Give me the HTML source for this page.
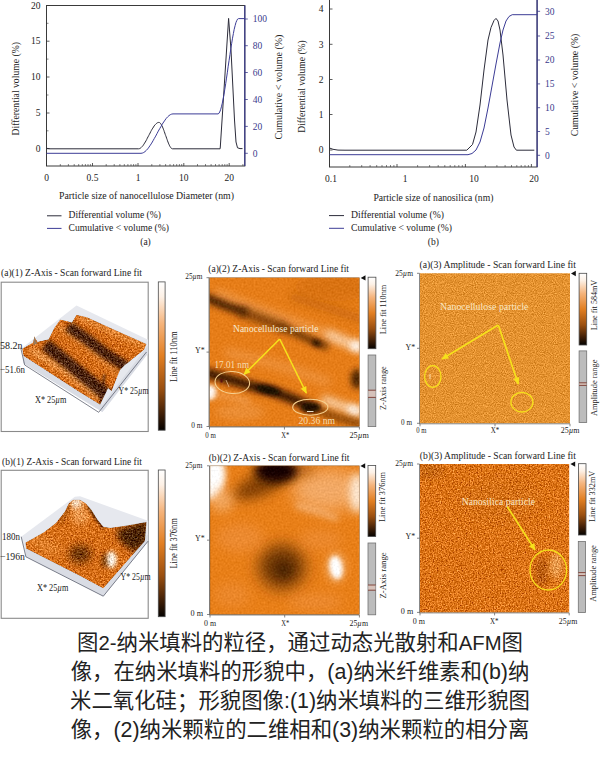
<!DOCTYPE html>
<html lang="zh"><head><meta charset="utf-8"><title>Figure 2</title>
<style>
html,body{margin:0;padding:0;background:#fff;}
body{width:600px;height:760px;position:relative;overflow:hidden;}
svg{position:absolute;left:0;top:0;}
svg text{font-family:"Liberation Serif","Noto Sans CJK SC",serif;}
.cap{position:absolute;left:0;top:629px;width:600px;text-align:center;white-space:nowrap;
font-family:"Liberation Sans","Noto Sans CJK SC",sans-serif;font-size:21.4px;line-height:29px;color:#222;}
.cap .l{font-size:20.3px;}
</style></head><body>
<svg width="600" height="760" viewBox="0 0 600 760">
<defs><linearGradient id="cbar" x1="0" y1="0" x2="0" y2="1">
<stop offset="0" stop-color="#ffffff"/><stop offset="0.10" stop-color="#fdf1e6"/>
<stop offset="0.28" stop-color="#f5b47c"/><stop offset="0.50" stop-color="#e27f22"/>
<stop offset="0.72" stop-color="#9a4f10"/><stop offset="0.90" stop-color="#3a1c06"/>
<stop offset="1" stop-color="#050200"/></linearGradient>
<filter id="b1" filterUnits="userSpaceOnUse" x="0" y="250" width="600" height="400"><feGaussianBlur stdDeviation="1"/></filter>
<filter id="b2" filterUnits="userSpaceOnUse" x="0" y="250" width="600" height="400"><feGaussianBlur stdDeviation="2"/></filter>
<filter id="b3" filterUnits="userSpaceOnUse" x="0" y="250" width="600" height="400"><feGaussianBlur stdDeviation="3"/></filter>
<filter id="b4" filterUnits="userSpaceOnUse" x="0" y="250" width="600" height="400"><feGaussianBlur stdDeviation="4"/></filter>
<filter id="b6" filterUnits="userSpaceOnUse" x="0" y="250" width="600" height="400"><feGaussianBlur stdDeviation="6"/></filter>
<filter id="b8" filterUnits="userSpaceOnUse" x="0" y="250" width="600" height="400"><feGaussianBlur stdDeviation="8"/></filter>
<filter id="gA3" filterUnits="userSpaceOnUse" x="0" y="250" width="600" height="400" color-interpolation-filters="sRGB">
<feTurbulence type="fractalNoise" baseFrequency="0.9" numOctaves="2" seed="7" result="n"/>
<feColorMatrix in="n" type="matrix" values="1 0 0 0 0  1 0 0 0 0  1 0 0 0 0  0 0 0 0 1" result="g"/>
<feComposite in="SourceGraphic" in2="g" operator="arithmetic" k1="0" k2="1" k3="0.42" k4="-0.21" result="c"/>
<feComposite in="c" in2="SourceGraphic" operator="in"/>
</filter>
<filter id="gB3" filterUnits="userSpaceOnUse" x="0" y="250" width="600" height="400" color-interpolation-filters="sRGB">
<feTurbulence type="fractalNoise" baseFrequency="0.75" numOctaves="3" seed="19" result="n"/>
<feColorMatrix in="n" type="matrix" values="1 0 0 0 0  1 0 0 0 0  1 0 0 0 0  0 0 0 0 1" result="g"/>
<feComposite in="SourceGraphic" in2="g" operator="arithmetic" k1="0" k2="1" k3="0.75" k4="-0.375" result="c"/>
<feComposite in="c" in2="SourceGraphic" operator="in"/>
</filter>
<filter id="g3D" filterUnits="userSpaceOnUse" x="0" y="250" width="600" height="400" color-interpolation-filters="sRGB">
<feTurbulence type="fractalNoise" baseFrequency="0.65" numOctaves="3" seed="5" result="n"/>
<feColorMatrix in="n" type="matrix" values="1 0 0 0 0  1 0 0 0 0  1 0 0 0 0  0 0 0 0 1" result="g"/>
<feComposite in="SourceGraphic" in2="g" operator="arithmetic" k1="0" k2="1" k3="0.7" k4="-0.35" result="c"/>
<feComposite in="c" in2="SourceGraphic" operator="in"/>
</filter>
<filter id="g2D" filterUnits="userSpaceOnUse" x="0" y="250" width="600" height="400" color-interpolation-filters="sRGB">
<feTurbulence type="fractalNoise" baseFrequency="0.5" numOctaves="2" seed="9" result="n"/>
<feColorMatrix in="n" type="matrix" values="1 0 0 0 0  1 0 0 0 0  1 0 0 0 0  0 0 0 0 1" result="g"/>
<feComposite in="SourceGraphic" in2="g" operator="arithmetic" k1="0" k2="1" k3="0.14" k4="-0.07" result="c"/>
<feComposite in="c" in2="SourceGraphic" operator="in"/>
</filter>
<marker id="ah" viewBox="0 0 10 10" refX="9" refY="5" markerWidth="8" markerHeight="7" orient="auto-start-reverse" markerUnits="userSpaceOnUse">
<path d="M0,0.5 L10,5 L0,9.5 Z" fill="#f6e11c"/></marker>
<clipPath id="cA2"><rect x="209.5" y="277.7" width="149.9" height="148.8"/></clipPath>
<clipPath id="cA3"><rect x="420" y="273.3" width="150" height="150"/></clipPath>
<clipPath id="cB2"><rect x="210" y="465.8" width="149.4" height="148.7"/></clipPath>
<clipPath id="cB3"><rect x="420" y="464" width="149.2" height="148.4"/></clipPath></defs>
<rect x="46.5" y="5.5" width="198.3" height="160.5" fill="none" stroke="#3a3a3a" stroke-width="1"/>
<line x1="244.8" y1="5.5" x2="244.8" y2="166" stroke="#3a3a8c" stroke-width="1.2"/>
<line x1="46.5" y1="5.5" x2="49.5" y2="5.5" stroke="#333" stroke-width="0.8"/>
<text x="40.5" y="8.7" text-anchor="end" font-size="9.5" fill="#222">20</text>
<line x1="46.5" y1="41.2" x2="49.5" y2="41.2" stroke="#333" stroke-width="0.8"/>
<text x="40.5" y="44.400000000000006" text-anchor="end" font-size="9.5" fill="#222">15</text>
<line x1="46.5" y1="77" x2="49.5" y2="77" stroke="#333" stroke-width="0.8"/>
<text x="40.5" y="80.2" text-anchor="end" font-size="9.5" fill="#222">10</text>
<line x1="46.5" y1="113" x2="49.5" y2="113" stroke="#333" stroke-width="0.8"/>
<text x="40.5" y="116.2" text-anchor="end" font-size="9.5" fill="#222">5</text>
<line x1="46.5" y1="148.7" x2="49.5" y2="148.7" stroke="#333" stroke-width="0.8"/>
<text x="40.5" y="151.89999999999998" text-anchor="end" font-size="9.5" fill="#222">0</text>
<line x1="46.5" y1="23.3" x2="48.5" y2="23.3" stroke="#333" stroke-width="0.6"/>
<line x1="46.5" y1="59.1" x2="48.5" y2="59.1" stroke="#333" stroke-width="0.6"/>
<line x1="46.5" y1="95" x2="48.5" y2="95" stroke="#333" stroke-width="0.6"/>
<line x1="46.5" y1="130.8" x2="48.5" y2="130.8" stroke="#333" stroke-width="0.6"/>
<line x1="244.8" y1="19" x2="247.8" y2="19" stroke="#3a3a8c" stroke-width="0.8"/>
<text x="252.8" y="22.2" font-size="9.5" fill="#3a3a8c">100</text>
<line x1="244.8" y1="45.7" x2="247.8" y2="45.7" stroke="#3a3a8c" stroke-width="0.8"/>
<text x="252.8" y="48.900000000000006" font-size="9.5" fill="#3a3a8c">80</text>
<line x1="244.8" y1="72.5" x2="247.8" y2="72.5" stroke="#3a3a8c" stroke-width="0.8"/>
<text x="252.8" y="75.7" font-size="9.5" fill="#3a3a8c">60</text>
<line x1="244.8" y1="99.5" x2="247.8" y2="99.5" stroke="#3a3a8c" stroke-width="0.8"/>
<text x="252.8" y="102.7" font-size="9.5" fill="#3a3a8c">40</text>
<line x1="244.8" y1="126.4" x2="247.8" y2="126.4" stroke="#3a3a8c" stroke-width="0.8"/>
<text x="252.8" y="129.6" font-size="9.5" fill="#3a3a8c">20</text>
<line x1="244.8" y1="153.3" x2="247.8" y2="153.3" stroke="#3a3a8c" stroke-width="0.8"/>
<text x="252.8" y="156.5" font-size="9.5" fill="#3a3a8c">0</text>
<line x1="46.5" y1="166" x2="46.5" y2="163" stroke="#333" stroke-width="0.8"/>
<text x="46.5" y="181" text-anchor="middle" font-size="9.5" fill="#222">0</text>
<line x1="92.5" y1="166" x2="92.5" y2="163" stroke="#333" stroke-width="0.8"/>
<text x="92.5" y="181" text-anchor="middle" font-size="9.5" fill="#222">0.5</text>
<line x1="138" y1="166" x2="138" y2="163" stroke="#333" stroke-width="0.8"/>
<text x="138" y="181" text-anchor="middle" font-size="9.5" fill="#222">1</text>
<line x1="183.8" y1="166" x2="183.8" y2="163" stroke="#333" stroke-width="0.8"/>
<text x="183.8" y="181" text-anchor="middle" font-size="9.5" fill="#222">10</text>
<line x1="229.2" y1="166" x2="229.2" y2="163" stroke="#333" stroke-width="0.8"/>
<text x="229.2" y="181" text-anchor="middle" font-size="9.5" fill="#222">20</text>
<line x1="60.3" y1="166" x2="60.3" y2="164" stroke="#333" stroke-width="0.6"/>
<line x1="68.4" y1="166" x2="68.4" y2="164" stroke="#333" stroke-width="0.6"/>
<line x1="74.2" y1="166" x2="74.2" y2="164" stroke="#333" stroke-width="0.6"/>
<line x1="78.7" y1="166" x2="78.7" y2="164" stroke="#333" stroke-width="0.6"/>
<line x1="82.3" y1="166" x2="82.3" y2="164" stroke="#333" stroke-width="0.6"/>
<line x1="85.4" y1="166" x2="85.4" y2="164" stroke="#333" stroke-width="0.6"/>
<line x1="88.0" y1="166" x2="88.0" y2="164" stroke="#333" stroke-width="0.6"/>
<line x1="90.4" y1="166" x2="90.4" y2="164" stroke="#333" stroke-width="0.6"/>
<line x1="106.2" y1="166" x2="106.2" y2="164" stroke="#333" stroke-width="0.6"/>
<line x1="114.2" y1="166" x2="114.2" y2="164" stroke="#333" stroke-width="0.6"/>
<line x1="119.9" y1="166" x2="119.9" y2="164" stroke="#333" stroke-width="0.6"/>
<line x1="124.3" y1="166" x2="124.3" y2="164" stroke="#333" stroke-width="0.6"/>
<line x1="127.9" y1="166" x2="127.9" y2="164" stroke="#333" stroke-width="0.6"/>
<line x1="131.0" y1="166" x2="131.0" y2="164" stroke="#333" stroke-width="0.6"/>
<line x1="133.6" y1="166" x2="133.6" y2="164" stroke="#333" stroke-width="0.6"/>
<line x1="135.9" y1="166" x2="135.9" y2="164" stroke="#333" stroke-width="0.6"/>
<line x1="151.8" y1="166" x2="151.8" y2="164" stroke="#333" stroke-width="0.6"/>
<line x1="159.9" y1="166" x2="159.9" y2="164" stroke="#333" stroke-width="0.6"/>
<line x1="165.6" y1="166" x2="165.6" y2="164" stroke="#333" stroke-width="0.6"/>
<line x1="170.0" y1="166" x2="170.0" y2="164" stroke="#333" stroke-width="0.6"/>
<line x1="173.6" y1="166" x2="173.6" y2="164" stroke="#333" stroke-width="0.6"/>
<line x1="176.7" y1="166" x2="176.7" y2="164" stroke="#333" stroke-width="0.6"/>
<line x1="179.4" y1="166" x2="179.4" y2="164" stroke="#333" stroke-width="0.6"/>
<line x1="181.7" y1="166" x2="181.7" y2="164" stroke="#333" stroke-width="0.6"/>
<line x1="197.5" y1="166" x2="197.5" y2="164" stroke="#333" stroke-width="0.6"/>
<line x1="205.5" y1="166" x2="205.5" y2="164" stroke="#333" stroke-width="0.6"/>
<line x1="211.1" y1="166" x2="211.1" y2="164" stroke="#333" stroke-width="0.6"/>
<line x1="215.5" y1="166" x2="215.5" y2="164" stroke="#333" stroke-width="0.6"/>
<line x1="219.1" y1="166" x2="219.1" y2="164" stroke="#333" stroke-width="0.6"/>
<line x1="222.2" y1="166" x2="222.2" y2="164" stroke="#333" stroke-width="0.6"/>
<line x1="224.8" y1="166" x2="224.8" y2="164" stroke="#333" stroke-width="0.6"/>
<line x1="227.1" y1="166" x2="227.1" y2="164" stroke="#333" stroke-width="0.6"/>
<line x1="242.9" y1="166" x2="242.9" y2="164" stroke="#333" stroke-width="0.6"/>
<path d="M46.5,148.3 L50.0,148.8 L138.5,148.8 L138.5,148.8 L139.2,148.7 L139.9,148.5 L140.5,148.1 L141.2,147.5 L141.9,146.8 L142.6,146.1 L143.3,145.2 L143.9,144.2 L144.6,143.1 L145.3,142.0 L146.0,140.8 L146.7,139.5 L147.3,138.2 L148.0,136.9 L148.7,135.6 L149.4,134.3 L150.1,133.0 L150.7,131.7 L151.4,130.4 L152.1,129.2 L152.8,128.1 L153.5,127.0 L154.1,126.0 L154.8,125.1 L155.5,124.4 L156.2,123.7 L156.9,123.1 L157.5,122.7 L158.2,122.5 L158.9,122.4 L159.4,122.5 L159.8,122.7 L160.3,123.1 L160.7,123.7 L161.2,124.4 L161.6,125.1 L162.1,126.0 L162.5,127.0 L163.0,128.1 L163.4,129.2 L163.9,130.4 L164.3,131.7 L164.8,133.0 L165.2,134.3 L165.7,135.6 L166.2,136.9 L166.6,138.2 L167.1,139.5 L167.5,140.8 L168.0,142.0 L168.4,143.1 L168.9,144.2 L169.3,145.2 L169.8,146.1 L170.2,146.8 L170.7,147.5 L171.1,148.1 L171.6,148.5 L172.0,148.7 L172.5,148.8 L220.1,148.8 L220.3,147.0 L228.6,18.4 L231.0,50.0 L234.5,120.0 L236.0,142.0 L237.5,147.8 L240.0,148.6 L242.5,148.6" fill="none" stroke="#2c2c3a" stroke-width="1" stroke-linejoin="round"/>
<path d="M46.5,153.3 L141.0,153.3 L141.0,153.3 L142.3,153.1 L143.7,152.5 L145.0,151.6 L146.3,150.4 L147.7,148.9 L149.0,147.1 L150.3,145.2 L151.7,143.1 L153.0,140.8 L154.3,138.5 L155.7,136.1 L157.0,133.6 L158.3,131.1 L159.7,128.7 L161.0,126.4 L162.3,124.1 L163.7,122.0 L165.0,120.1 L166.3,118.3 L167.7,116.8 L169.0,115.6 L170.3,114.7 L171.7,114.1 L173.0,113.9 L218.0,113.9 L218.0,113.9 L218.9,113.4 L219.7,112.0 L220.6,109.8 L221.4,106.8 L222.3,103.2 L223.1,99.0 L224.0,94.3 L224.8,89.2 L225.7,83.7 L226.5,78.1 L227.4,72.2 L228.2,66.2 L229.1,60.3 L230.0,54.4 L230.8,48.8 L231.7,43.3 L232.5,38.2 L233.4,33.5 L234.2,29.3 L235.1,25.7 L235.9,22.7 L236.8,20.5 L237.6,19.1 L238.5,18.6 L244.8,18.6" fill="none" stroke="#3c3c96" stroke-width="1" stroke-linejoin="round"/>
<text transform="translate(18.6,88.7) rotate(-90)" text-anchor="middle" font-size="9.7" fill="#222">Differential volume (%)</text>
<text transform="translate(282,87) rotate(-90)" text-anchor="middle" font-size="10" fill="#222">Cumulative &lt; volume (%)</text>
<text x="59" y="199.3" font-size="9.8" fill="#222" textLength="175.0" lengthAdjust="spacingAndGlyphs">Particle size of nanocellulose Diameter (nm)</text>
<line x1="47" y1="215.8" x2="61.5" y2="215.8" stroke="#2c2c3a" stroke-width="1"/>
<text x="68.5" y="218.4" font-size="9.8" fill="#222" textLength="92.5" lengthAdjust="spacingAndGlyphs">Differential volume (%)</text>
<line x1="47" y1="228.4" x2="61.5" y2="228.4" stroke="#3c3c96" stroke-width="1"/>
<text x="68.5" y="231" font-size="9.8" fill="#222" textLength="100.5" lengthAdjust="spacingAndGlyphs">Cumulative &lt; volume (%)</text>
<text x="145.5" y="245" text-anchor="middle" font-size="9.5" fill="#222">(a)</text>
<rect x="329.5" y="-2" width="207.60000000000002" height="169" fill="none" stroke="#3a3a3a" stroke-width="1"/>
<line x1="537.1" y1="-2" x2="537.1" y2="167" stroke="#3a3a8c" stroke-width="1.2"/>
<line x1="329.5" y1="9" x2="332.5" y2="9" stroke="#333" stroke-width="0.8"/>
<text x="323.5" y="12.2" text-anchor="end" font-size="9.5" fill="#222">4</text>
<line x1="329.5" y1="44.3" x2="332.5" y2="44.3" stroke="#333" stroke-width="0.8"/>
<text x="323.5" y="47.5" text-anchor="end" font-size="9.5" fill="#222">3</text>
<line x1="329.5" y1="79.5" x2="332.5" y2="79.5" stroke="#333" stroke-width="0.8"/>
<text x="323.5" y="82.7" text-anchor="end" font-size="9.5" fill="#222">2</text>
<line x1="329.5" y1="114.5" x2="332.5" y2="114.5" stroke="#333" stroke-width="0.8"/>
<text x="323.5" y="117.7" text-anchor="end" font-size="9.5" fill="#222">1</text>
<line x1="329.5" y1="150" x2="332.5" y2="150" stroke="#333" stroke-width="0.8"/>
<text x="323.5" y="153.2" text-anchor="end" font-size="9.5" fill="#222">0</text>
<line x1="537.1" y1="11.3" x2="540.1" y2="11.3" stroke="#3a3a8c" stroke-width="0.8"/>
<text x="545.1" y="14.5" font-size="9.5" fill="#3a3a8c">30</text>
<line x1="537.1" y1="36" x2="540.1" y2="36" stroke="#3a3a8c" stroke-width="0.8"/>
<text x="545.1" y="39.2" font-size="9.5" fill="#3a3a8c">25</text>
<line x1="537.1" y1="60" x2="540.1" y2="60" stroke="#3a3a8c" stroke-width="0.8"/>
<text x="545.1" y="63.2" font-size="9.5" fill="#3a3a8c">20</text>
<line x1="537.1" y1="83.9" x2="540.1" y2="83.9" stroke="#3a3a8c" stroke-width="0.8"/>
<text x="545.1" y="87.10000000000001" font-size="9.5" fill="#3a3a8c">15</text>
<line x1="537.1" y1="107.7" x2="540.1" y2="107.7" stroke="#3a3a8c" stroke-width="0.8"/>
<text x="545.1" y="110.9" font-size="9.5" fill="#3a3a8c">10</text>
<line x1="537.1" y1="131.5" x2="540.1" y2="131.5" stroke="#3a3a8c" stroke-width="0.8"/>
<text x="545.1" y="134.7" font-size="9.5" fill="#3a3a8c">5</text>
<line x1="537.1" y1="155.3" x2="540.1" y2="155.3" stroke="#3a3a8c" stroke-width="0.8"/>
<text x="545.1" y="158.5" font-size="9.5" fill="#3a3a8c">0</text>
<line x1="329.5" y1="167" x2="329.5" y2="164" stroke="#333" stroke-width="0.8"/>
<text x="331" y="182" text-anchor="middle" font-size="9.5" fill="#222">0.1</text>
<line x1="397" y1="167" x2="397" y2="164" stroke="#333" stroke-width="0.8"/>
<text x="405" y="182" text-anchor="middle" font-size="9.5" fill="#222">1</text>
<line x1="465.4" y1="167" x2="465.4" y2="164" stroke="#333" stroke-width="0.8"/>
<text x="474" y="182" text-anchor="middle" font-size="9.5" fill="#222">10</text>
<line x1="531.4" y1="167" x2="531.4" y2="164" stroke="#333" stroke-width="0.8"/>
<text x="534" y="182" text-anchor="middle" font-size="9.5" fill="#222">20</text>
<line x1="349.8" y1="167" x2="349.8" y2="165" stroke="#333" stroke-width="0.6"/>
<line x1="361.7" y1="167" x2="361.7" y2="165" stroke="#333" stroke-width="0.6"/>
<line x1="370.1" y1="167" x2="370.1" y2="165" stroke="#333" stroke-width="0.6"/>
<line x1="376.7" y1="167" x2="376.7" y2="165" stroke="#333" stroke-width="0.6"/>
<line x1="382.0" y1="167" x2="382.0" y2="165" stroke="#333" stroke-width="0.6"/>
<line x1="386.5" y1="167" x2="386.5" y2="165" stroke="#333" stroke-width="0.6"/>
<line x1="390.5" y1="167" x2="390.5" y2="165" stroke="#333" stroke-width="0.6"/>
<line x1="393.9" y1="167" x2="393.9" y2="165" stroke="#333" stroke-width="0.6"/>
<line x1="417.6" y1="167" x2="417.6" y2="165" stroke="#333" stroke-width="0.6"/>
<line x1="429.6" y1="167" x2="429.6" y2="165" stroke="#333" stroke-width="0.6"/>
<line x1="438.2" y1="167" x2="438.2" y2="165" stroke="#333" stroke-width="0.6"/>
<line x1="444.8" y1="167" x2="444.8" y2="165" stroke="#333" stroke-width="0.6"/>
<line x1="450.2" y1="167" x2="450.2" y2="165" stroke="#333" stroke-width="0.6"/>
<line x1="454.8" y1="167" x2="454.8" y2="165" stroke="#333" stroke-width="0.6"/>
<line x1="458.8" y1="167" x2="458.8" y2="165" stroke="#333" stroke-width="0.6"/>
<line x1="462.3" y1="167" x2="462.3" y2="165" stroke="#333" stroke-width="0.6"/>
<line x1="485.3" y1="167" x2="485.3" y2="165" stroke="#333" stroke-width="0.6"/>
<line x1="496.9" y1="167" x2="496.9" y2="165" stroke="#333" stroke-width="0.6"/>
<line x1="505.1" y1="167" x2="505.1" y2="165" stroke="#333" stroke-width="0.6"/>
<line x1="511.5" y1="167" x2="511.5" y2="165" stroke="#333" stroke-width="0.6"/>
<line x1="516.8" y1="167" x2="516.8" y2="165" stroke="#333" stroke-width="0.6"/>
<line x1="521.2" y1="167" x2="521.2" y2="165" stroke="#333" stroke-width="0.6"/>
<line x1="525.0" y1="167" x2="525.0" y2="165" stroke="#333" stroke-width="0.6"/>
<line x1="528.4" y1="167" x2="528.4" y2="165" stroke="#333" stroke-width="0.6"/>
<path d="M329.5,148.0 L333.0,149.3 L338.0,150.1 L345.0,150.2 L466.8,150.2 L472.5,144.5 L476.0,132.0 L480.0,105.0 L484.0,70.0 L488.0,40.0 L491.0,27.5 L494.0,20.5 L496.0,18.4 L498.0,21.0 L500.0,30.0 L503.0,55.0 L507.0,100.0 L511.0,135.0 L514.0,147.0 L516.4,150.2 L534.3,150.2" fill="none" stroke="#2c2c3a" stroke-width="1" stroke-linejoin="round"/>
<path d="M329.5,154.7 L468.0,154.7 L472.0,153.5 L476.0,150.0 L480.0,142.0 L484.0,128.0 L488.0,108.0 L492.0,86.0 L496.0,64.0 L500.0,43.0 L503.0,30.0 L506.0,21.0 L509.0,16.5 L512.2,14.7 L537.0,14.7" fill="none" stroke="#3c3c96" stroke-width="1" stroke-linejoin="round"/>
<text transform="translate(304.5,86.5) rotate(-90)" text-anchor="middle" font-size="9.6" fill="#222">Differential volume (%)</text>
<text transform="translate(577.5,85) rotate(-90)" text-anchor="middle" font-size="9.8" fill="#222">Cumulative &lt; volume (%)</text>
<text x="373.4" y="200.6" font-size="9.8" fill="#222" textLength="120.0" lengthAdjust="spacingAndGlyphs">Particle size of nanosilica (nm)</text>
<line x1="329" y1="215.6" x2="344" y2="215.6" stroke="#2c2c3a" stroke-width="1"/>
<text x="351" y="217.8" font-size="9.8" fill="#222" textLength="93.0" lengthAdjust="spacingAndGlyphs">Differential volume (%)</text>
<line x1="329" y1="228.3" x2="344" y2="228.3" stroke="#3c3c96" stroke-width="1"/>
<text x="351" y="230.5" font-size="9.8" fill="#222" textLength="101.0" lengthAdjust="spacingAndGlyphs">Cumulative &lt; volume (%)</text>
<text x="433.4" y="245" text-anchor="middle" font-size="9.5" fill="#222">(b)</text>
<text x="1.0" y="276.4" font-size="9.3" fill="#222" textLength="141.0" lengthAdjust="spacingAndGlyphs" >(a)(1) Z-Axis - Scan forward Line fit</text>
<rect x="1.2" y="282.2" width="147" height="149.3" fill="#fff" stroke="#8a8a8a" stroke-width="1.1"/>
<polygon points="21.7,348.2 76.5,305.5 148.1,339.8 148.1,353.3 102.4,412.1 23.1,363.1" fill="#e6e8ee"/>
<polygon points="23.1,356.1 102.4,404.7 148.1,345.2 148.1,353.3 102.4,412.1 23.1,363.1" fill="#d9dce4"/>
<polyline points="20.7,347.7 24.7,365 98.7,412.3 146.5,352" fill="none" stroke="#4a4f5e" stroke-width="0.7"/>
<clipPath id="cA1"><polygon points="22.1,348.7 32.9,342.6 34.3,336.5 37.5,341.7 48.5,339.3 54.3,327.7 60.2,319.5 67.2,321.1 71.8,322.5 76.5,314.8 87.0,317.2 115.0,330.0 146.5,344.0 144.2,349.8 127.8,363.1 124.8,365.0 120.1,370.1 111.7,391.1 108.0,388.3 100.1,404.7 80.0,392.5 23.5,356.1"/></clipPath>
<g clip-path="url(#cA1)" filter="url(#g3D)"><polygon points="22.1,348.7 32.9,342.6 34.3,336.5 37.5,341.7 48.5,339.3 54.3,327.7 60.2,319.5 67.2,321.1 71.8,322.5 76.5,314.8 87.0,317.2 115.0,330.0 146.5,344.0 144.2,349.8 127.8,363.1 124.8,365.0 120.1,370.1 111.7,391.1 108.0,388.3 100.1,404.7 80.0,392.5 23.5,356.1" fill="#d36c17"/><polyline points="31.0,349.8 63.7,369.7 99.8,397.7" fill="none" stroke="#e89448" stroke-width="7" filter="url(#b2)"/><polyline points="57.8,325.3 87.0,347.5 118.5,373.2" fill="none" stroke="#e48a3a" stroke-width="5" filter="url(#b2)"/><polyline points="80.0,317.2 110.3,331.2 145.3,346.3" fill="none" stroke="#e48a3a" stroke-width="5" filter="url(#b2)"/><polyline points="45.0,344.5 64.8,360.3 85.8,377.6 110.3,397.7" fill="none" stroke="#3c1c08" stroke-width="12.5" filter="url(#b2)" opacity="0.92"/><polyline points="67.9,326.3 87.0,339.3 105.7,353.8 127.8,367.8" fill="none" stroke="#3c1c08" stroke-width="11" filter="url(#b2)" opacity="0.9"/><polyline points="104.5,374.3 100.5,404.7" fill="none" stroke="#4a2408" stroke-width="3" filter="url(#b1)" opacity="0.7"/></g>
<polygon points="33.3,345.2 34.3,336.1 36.1,341.7 38.0,343.1" fill="#9a7a5a"/>
<text x="0.0" y="349.0" font-size="9.5" fill="#222" textLength="22.5" lengthAdjust="spacingAndGlyphs" >58.2n</text>
<text x="0.0" y="373.0" font-size="9.5" fill="#222" textLength="25.0" lengthAdjust="spacingAndGlyphs" >−51.6n</text>
<text x="35.0" y="403.0" font-size="9.5" fill="#222" textLength="31.5" lengthAdjust="spacingAndGlyphs" >X* 25<tspan font-style="italic">µ</tspan>m</text>
<text x="118.5" y="394.0" font-size="9.5" fill="#222" textLength="30.0" lengthAdjust="spacingAndGlyphs" >Y* 25<tspan font-style="italic">µ</tspan>m</text>
<rect x="158.3" y="281.9" width="6.8" height="148.3" fill="url(#cbar)" stroke="#4a4a4a" stroke-width="0.8"/>
<text transform="translate(176.5,382.0) rotate(-90)" font-size="9.5" fill="#222" textLength="50.5" lengthAdjust="spacingAndGlyphs">Line fit 110nm</text>
<text x="208.3" y="272.2" font-size="9.3" fill="#222" textLength="140.7" lengthAdjust="spacingAndGlyphs" >(a)(2) Z-Axis - Scan forward Line fit</text>
<g clip-path="url(#cA2)" filter="url(#g2D)"><rect x="209" y="277" width="151" height="151" fill="#e67d18"/><ellipse cx="335" cy="287" rx="40" ry="14" fill="#cf6a10" opacity="0.55" filter="url(#b6)"/><polyline points="290,296 325,307 364,320" fill="none" stroke="#b85c0c" stroke-width="8" filter="url(#b4)" opacity="0.55"/><polyline points="215,292.5 247,305 285,319 325,333 364,349" fill="none" stroke="#f3a45c" stroke-width="8" filter="url(#b4)" opacity="0.75"/><polyline points="326,333.5 342,340.5 366,350" fill="none" stroke="#fde3c6" stroke-width="7.5" filter="url(#b4)" opacity="0.9"/><ellipse cx="356" cy="346" rx="6" ry="5" fill="#ffffff" filter="url(#b3)" opacity="0.9"/><polyline points="203,296.5 227,306.3 247,313" fill="none" stroke="#351400" stroke-width="8" filter="url(#b3)" opacity="0.95"/><polyline points="240,311 267,321 285,328" fill="none" stroke="#4a2002" stroke-width="7.5" filter="url(#b4)" opacity="0.85"/><polyline points="280,326 300,335 318,343.5 328,347" fill="none" stroke="#4a2002" stroke-width="7" filter="url(#b3)" opacity="0.8"/><ellipse cx="316.5" cy="343" rx="5" ry="3" fill="#2a1000" filter="url(#b2)" transform="rotate(22 316.5 343)"/><polyline points="225,352 260,360 300,372 330,383" fill="none" stroke="#f3a258" stroke-width="9" filter="url(#b4)" opacity="0.55"/><ellipse cx="357" cy="379" rx="6" ry="10" fill="#3e1a02" filter="url(#b3)" opacity="0.95"/><polyline points="322,399 340,405.5 366,414" fill="none" stroke="#fde6cc" stroke-width="7.5" filter="url(#b4)" opacity="0.95"/><ellipse cx="354" cy="410" rx="7" ry="4.5" fill="#fff" filter="url(#b3)" opacity="0.85" transform="rotate(18 354 410)"/><polyline points="203,372 235,381 255,387 272,391 293,399 312,408" fill="none" stroke="#2c1100" stroke-width="9.5" filter="url(#b3)" opacity="0.95"/><polyline points="312,408 335,417 364,425" fill="none" stroke="#5a2a04" stroke-width="7" filter="url(#b3)" opacity="0.7"/><ellipse cx="268" cy="390" rx="13" ry="4" fill="#180700" filter="url(#b2)" transform="rotate(14 268 390)"/><ellipse cx="311" cy="407.5" rx="10" ry="5" fill="#1c0900" filter="url(#b2)"/><ellipse cx="210" cy="392.5" rx="6.5" ry="7.5" fill="#ffffff" filter="url(#b2)"/><polyline points="212,395 232,397 250,402" fill="none" stroke="#f7b477" stroke-width="5" filter="url(#b3)" opacity="0.6"/><ellipse cx="240" cy="412" rx="25" ry="8" fill="#f0a055" filter="url(#b4)" opacity="0.5"/></g>
<rect x="209.5" y="277.7" width="149.9" height="148.8" fill="none" stroke="#7a4a18" stroke-width="0.6" opacity="0.7"/>
<path d="M209.0,277.7 V427.0 H359.4" fill="none" stroke="#555" stroke-width="0.7"/><line x1="206.5" y1="277.7" x2="209.0" y2="277.7" stroke="#555" stroke-width="0.7"/><line x1="206.5" y1="352.1" x2="209.0" y2="352.1" stroke="#555" stroke-width="0.7"/><line x1="206.5" y1="426.5" x2="209.0" y2="426.5" stroke="#555" stroke-width="0.7"/><line x1="209.5" y1="427.0" x2="209.5" y2="429.5" stroke="#555" stroke-width="0.7"/><line x1="284.45" y1="427.0" x2="284.45" y2="429.5" stroke="#555" stroke-width="0.7"/><line x1="359.4" y1="427.0" x2="359.4" y2="429.5" stroke="#555" stroke-width="0.7"/>
<text x="233.0" y="332.2" font-size="10" fill="#f6ead0" textLength="85.5" lengthAdjust="spacingAndGlyphs" >Nanocellulose particle</text>
<path d="M279.7,339 L244,374.5" stroke="#f6e11c" stroke-width="1.6" fill="none" marker-end="url(#ah)"/>
<path d="M279.7,339 L306.3,393" stroke="#f6e11c" stroke-width="1.6" fill="none" marker-end="url(#ah)"/>
<ellipse cx="232.3" cy="382.5" rx="17.3" ry="11" fill="none" stroke="#f6cf8e" stroke-width="1.1" transform="rotate(4 232.3 382.5)"/>
<ellipse cx="310.3" cy="407.2" rx="17.6" ry="8" fill="none" stroke="#f6cf8e" stroke-width="1.1"/>
<rect x="220.5" y="379" width="2" height="3.5" fill="#5a1010"/>
<path d="M226,380 l3,7" stroke="#f0c8a0" stroke-width="0.7"/>
<line x1="307" y1="411.5" x2="313.5" y2="411.5" stroke="#f5f0e0" stroke-width="0.9"/>
<text x="214.5" y="367.7" font-size="10" fill="#f5dcae" textLength="34.5" lengthAdjust="spacingAndGlyphs" >17.01 nm</text>
<text x="298.5" y="423.7" font-size="10" fill="#f5dcae" textLength="36.5" lengthAdjust="spacingAndGlyphs" >20.36 nm</text>
<text x="185.3" y="279.3" font-size="8" fill="#222" textLength="17.2" lengthAdjust="spacingAndGlyphs" >25<tspan font-style="italic">µ</tspan>m</text>
<text x="195.0" y="353.3" font-size="8" fill="#222" textLength="9.7" lengthAdjust="spacingAndGlyphs" >Y*</text>
<text x="191.3" y="428.0" font-size="8" fill="#222" textLength="11.2" lengthAdjust="spacingAndGlyphs" >0 m</text>
<text x="205.3" y="437.8" font-size="8" fill="#222" textLength="10.5" lengthAdjust="spacingAndGlyphs" >0 m</text>
<text x="281.3" y="437.8" font-size="8" fill="#222" textLength="8.0" lengthAdjust="spacingAndGlyphs" >X*</text>
<text x="349.5" y="437.8" font-size="8" fill="#222" textLength="19.3" lengthAdjust="spacingAndGlyphs" >25<tspan font-style="italic">µ</tspan>m</text>
<path d="M360.7,277.9 l4.8,-2.7 v5.4 z" fill="#111"/>
<rect x="368.1" y="277.2" width="7.8" height="71.5" fill="url(#cbar)" stroke="#4a4a4a" stroke-width="0.8"/>
<rect x="368.1" y="355" width="7.7" height="71.6" fill="#bcbcbc" stroke="#727272" stroke-width="0.8"/><rect x="368.5" y="390.2" width="6.9" height="7.2" fill="#d6c2ba"/><line x1="368.1" y1="390.2" x2="375.8" y2="390.2" stroke="#7a3a30" stroke-width="0.9"/><line x1="368.1" y1="397.40000000000003" x2="375.8" y2="397.40000000000003" stroke="#7a3a30" stroke-width="0.9"/>
<text transform="translate(385.7,334.2) rotate(-90)" font-size="8.8" fill="#222" textLength="49.5" lengthAdjust="spacingAndGlyphs">Line fit 110nm</text>
<text transform="translate(386.0,410.0) rotate(-90)" font-size="8.8" fill="#222" textLength="43.7" lengthAdjust="spacingAndGlyphs">Z-Axis range</text>
<text x="419.5" y="268.3" font-size="9.3" fill="#222" textLength="156.5" lengthAdjust="spacingAndGlyphs" >(a)(3) Amplitude - Scan forward Line fit</text>
<g clip-path="url(#cA3)" filter="url(#gA3)"><rect x="419" y="272" width="152" height="152" fill="#e49230"/></g>
<path d="M419.5,273.3 V423.8 H570" fill="none" stroke="#555" stroke-width="0.7"/><line x1="417" y1="273.3" x2="419.5" y2="273.3" stroke="#555" stroke-width="0.7"/><line x1="417" y1="348.3" x2="419.5" y2="348.3" stroke="#555" stroke-width="0.7"/><line x1="417" y1="423.3" x2="419.5" y2="423.3" stroke="#555" stroke-width="0.7"/><line x1="420" y1="423.8" x2="420" y2="426.3" stroke="#555" stroke-width="0.7"/><line x1="495.0" y1="423.8" x2="495.0" y2="426.3" stroke="#555" stroke-width="0.7"/><line x1="570" y1="423.8" x2="570" y2="426.3" stroke="#555" stroke-width="0.7"/>
<text x="440.0" y="310.0" font-size="10" fill="#f7e6c4" textLength="88.5" lengthAdjust="spacingAndGlyphs" >Nanocellulose particle</text>
<path d="M498.3,325 L442,359" stroke="#f6e11c" stroke-width="1.7" fill="none" marker-end="url(#ah)"/>
<path d="M498.3,325 L518.3,384" stroke="#f6e11c" stroke-width="1.7" fill="none" marker-end="url(#ah)"/>
<ellipse cx="432.8" cy="376.5" rx="8.2" ry="10.8" fill="none" stroke="#f6e11c" stroke-width="1.3"/>
<ellipse cx="521.9" cy="402.2" rx="11" ry="9.8" fill="none" stroke="#f6e11c" stroke-width="1.3"/>
<path d="M430,374 v5" stroke="#fbe8c0" stroke-width="0.8"/>
<text x="395.3" y="275.5" font-size="8" fill="#222" textLength="17.7" lengthAdjust="spacingAndGlyphs" >25<tspan font-style="italic">µ</tspan>m</text>
<text x="405.5" y="349.5" font-size="8" fill="#222" textLength="9.7" lengthAdjust="spacingAndGlyphs" >Y*</text>
<text x="401.1" y="424.6" font-size="8" fill="#222" textLength="10.9" lengthAdjust="spacingAndGlyphs" >0 m</text>
<text x="416.2" y="433.2" font-size="8" fill="#222" textLength="10.2" lengthAdjust="spacingAndGlyphs" >0 m</text>
<text x="490.7" y="433.2" font-size="8" fill="#222" textLength="8.5" lengthAdjust="spacingAndGlyphs" >X*</text>
<text x="560.7" y="433.2" font-size="8" fill="#222" textLength="18.8" lengthAdjust="spacingAndGlyphs" >25<tspan font-style="italic">µ</tspan>m</text>
<path d="M571,273.5 l4.8,-2.7 v5.4 z" fill="#111"/>
<rect x="579.1" y="273.3" width="7.6" height="71.7" fill="url(#cbar)" stroke="#4a4a4a" stroke-width="0.8"/>
<rect x="579.1" y="350.9" width="7.6" height="71.7" fill="#bcbcbc" stroke="#727272" stroke-width="0.8"/><rect x="579.5" y="382.8" width="6.8" height="2.6" fill="#d6c2ba"/><line x1="579.1" y1="382.8" x2="586.7" y2="382.8" stroke="#7a3a30" stroke-width="0.9"/><line x1="579.1" y1="385.40000000000003" x2="586.7" y2="385.40000000000003" stroke="#7a3a30" stroke-width="0.9"/>
<text transform="translate(597.2,330.2) rotate(-90)" font-size="8.8" fill="#222" textLength="50.4" lengthAdjust="spacingAndGlyphs">Line fit 584mV</text>
<text transform="translate(597.2,416.1) rotate(-90)" font-size="8.8" fill="#222" textLength="56.5" lengthAdjust="spacingAndGlyphs">Amplitude range</text>
<text x="2.0" y="464.7" font-size="9.3" fill="#222" textLength="140.0" lengthAdjust="spacingAndGlyphs" >(b)(1) Z-Axis - Scan forward Line fit</text>
<rect x="1.2" y="470.3" width="147" height="148" fill="#fff" stroke="#8a8a8a" stroke-width="1.1"/>
<polygon points="21.2,536.7 74.9,496.8 80.0,496.3 148.1,520.8 148.1,541.1 103.3,596.2 25.9,556.8" fill="#e6e8ee"/>
<polygon points="25.4,547.7 103.3,587.8 148.1,534.1 148.1,541.1 103.3,596.2 25.9,556.8" fill="#d9dce4"/>
<polyline points="21.2,536.7 25.9,556.8 103.3,596.2 148.1,541.1" fill="none" stroke="#4a4f5e" stroke-width="0.7"/>
<clipPath id="cB1"><polygon points="25.4,542.5 33.3,538.3 44.1,532.0 56.0,522.7 64.8,511.5 68.8,503.3 73.0,499.8 80.0,499.8 85.8,503.3 91.7,510.3 97.5,519.7 103.3,526.7 110.3,527.8 126.7,525.5 146.5,522.0 144.9,541.1 103.3,588.5 80.0,575.9 25.9,548.6"/></clipPath>
<g clip-path="url(#cB1)" filter="url(#g3D)"><polygon points="25.4,542.5 33.3,538.3 44.1,532.0 56.0,522.7 64.8,511.5 68.8,503.3 73.0,499.8 80.0,499.8 85.8,503.3 91.7,510.3 97.5,519.7 103.3,526.7 110.3,527.8 126.7,525.5 146.5,522.0 144.9,541.1 103.3,588.5 80.0,575.9 25.9,548.6" fill="#d56e17"/><ellipse cx="76.7" cy="504.3" rx="5.5" ry="6" fill="#fde9d6" filter="url(#b2)"/><ellipse cx="80.0" cy="515.0" rx="9" ry="10" fill="#ee9e56" filter="url(#b3)" opacity="0.85"/><polyline points="69.5,505.7 64.8,515.0 60.2,523.2" fill="none" stroke="#7a3c0c" stroke-width="3" filter="url(#b2)" opacity="0.6"/><polyline points="88.2,506.1 95.9,518.5 103.8,527.8" fill="none" stroke="#5a2a06" stroke-width="3" filter="url(#b1)" opacity="0.85"/><polygon points="116.2,530.2 148.8,519.7 147.7,543.0 133.7,552.3 119.7,541.1" fill="#3e1c04" filter="url(#b3)" opacity="0.9"/><ellipse cx="80.0" cy="554.2" rx="11" ry="9" fill="#4a2004" filter="url(#b4)" opacity="0.78"/><ellipse cx="111.3" cy="559.8" rx="5.5" ry="8.5" fill="#fff4e6" filter="url(#b2)"/><ellipse cx="104.3" cy="560.5" rx="3" ry="8" fill="#5a2a06" filter="url(#b2)" opacity="0.7"/><ellipse cx="45.0" cy="544.2" rx="18" ry="7" fill="#e58a38" filter="url(#b4)" opacity="0.7" transform="rotate(28 45.0 544.2)"/></g>
<text x="2.0" y="540.0" font-size="9.5" fill="#222" textLength="18.0" lengthAdjust="spacingAndGlyphs" >180n</text>
<text x="0.0" y="560.0" font-size="9.5" fill="#222" textLength="25.0" lengthAdjust="spacingAndGlyphs" >−196n</text>
<text x="37.0" y="590.5" font-size="9.5" fill="#222" textLength="31.5" lengthAdjust="spacingAndGlyphs" >X* 25<tspan font-style="italic">µ</tspan>m</text>
<text x="120.5" y="580.0" font-size="9.5" fill="#222" textLength="30.0" lengthAdjust="spacingAndGlyphs" >Y* 25<tspan font-style="italic">µ</tspan>m</text>
<rect x="158.3" y="470" width="6.8" height="146.7" fill="url(#cbar)" stroke="#4a4a4a" stroke-width="0.8"/>
<text transform="translate(176.5,568.5) rotate(-90)" font-size="9.5" fill="#222" textLength="50.2" lengthAdjust="spacingAndGlyphs">Line fit 376nm</text>
<text x="208.7" y="460.8" font-size="9.3" fill="#222" textLength="140.8" lengthAdjust="spacingAndGlyphs" >(b)(2) Z-Axis - Scan forward Line fit</text>
<g clip-path="url(#cB2)" filter="url(#g2D)"><rect x="209" y="465" width="151" height="151" fill="#e87f18"/><ellipse cx="328" cy="490" rx="36" ry="21" fill="#f6b880" filter="url(#b8)" opacity="0.75"/><ellipse cx="357" cy="493" rx="7" ry="20" fill="#fdebd8" filter="url(#b4)"/><polyline points="296,505 318,511 338,519" fill="none" stroke="#f6b579" stroke-width="6" filter="url(#b3)" opacity="0.8"/><ellipse cx="213" cy="479" rx="12" ry="21" fill="#ffffff" filter="url(#b3)" transform="rotate(12 213 479)"/><ellipse cx="222" cy="500" rx="12" ry="12" fill="#f6b97f" filter="url(#b6)" opacity="0.7"/><ellipse cx="262" cy="484" rx="30" ry="11" fill="#6a3206" filter="url(#b6)" opacity="0.8" transform="rotate(-24 262 484)"/><ellipse cx="283" cy="470" rx="32" ry="7" fill="#8a440a" filter="url(#b6)" opacity="0.6"/><ellipse cx="276" cy="471" rx="21" ry="11.5" fill="#140600" filter="url(#b4)"/><ellipse cx="282" cy="567" rx="23" ry="22" fill="#4a2002" filter="url(#b8)" opacity="0.8"/><ellipse cx="284" cy="570" rx="8" ry="8" fill="#341500" filter="url(#b4)" opacity="0.55"/><ellipse cx="336" cy="567.5" rx="9" ry="15" fill="#f8c79a" filter="url(#b4)" opacity="0.7"/><ellipse cx="336" cy="567.5" rx="6.2" ry="11.5" fill="#ffffff" filter="url(#b2)" transform="rotate(-10 336 567.5)"/><ellipse cx="240" cy="538" rx="24" ry="14" fill="#f09548" filter="url(#b6)" opacity="0.5"/><ellipse cx="320" cy="540" rx="22" ry="10" fill="#f09548" filter="url(#b6)" opacity="0.45"/><ellipse cx="315" cy="602" rx="28" ry="8" fill="#f09548" filter="url(#b6)" opacity="0.5"/><ellipse cx="232" cy="595" rx="18" ry="12" fill="#f09548" filter="url(#b6)" opacity="0.4"/></g>
<rect x="210" y="465.8" width="149.4" height="148.7" fill="none" stroke="#7a4a18" stroke-width="0.6" opacity="0.7"/>
<path d="M209.5,465.8 V615.0 H359.4" fill="none" stroke="#555" stroke-width="0.7"/><line x1="207" y1="465.8" x2="209.5" y2="465.8" stroke="#555" stroke-width="0.7"/><line x1="207" y1="540.15" x2="209.5" y2="540.15" stroke="#555" stroke-width="0.7"/><line x1="207" y1="614.5" x2="209.5" y2="614.5" stroke="#555" stroke-width="0.7"/><line x1="210" y1="615.0" x2="210" y2="617.5" stroke="#555" stroke-width="0.7"/><line x1="284.7" y1="615.0" x2="284.7" y2="617.5" stroke="#555" stroke-width="0.7"/><line x1="359.4" y1="615.0" x2="359.4" y2="617.5" stroke="#555" stroke-width="0.7"/>
<text x="185.3" y="467.5" font-size="8" fill="#222" textLength="17.2" lengthAdjust="spacingAndGlyphs" >25<tspan font-style="italic">µ</tspan>m</text>
<text x="195.0" y="541.4" font-size="8" fill="#222" textLength="9.7" lengthAdjust="spacingAndGlyphs" >Y*</text>
<text x="190.5" y="615.7" font-size="8" fill="#222" textLength="12.5" lengthAdjust="spacingAndGlyphs" >0 m</text>
<text x="204.0" y="625.5" font-size="8" fill="#222" textLength="12.0" lengthAdjust="spacingAndGlyphs" >0 m</text>
<text x="281.3" y="625.5" font-size="8" fill="#222" textLength="8.0" lengthAdjust="spacingAndGlyphs" >X*</text>
<text x="349.5" y="625.5" font-size="8" fill="#222" textLength="18.5" lengthAdjust="spacingAndGlyphs" >25<tspan font-style="italic">µ</tspan>m</text>
<path d="M360.4,465.9 l4.8,-2.7 v5.4 z" fill="#111"/>
<rect x="368" y="465.4" width="7.7" height="71.1" fill="url(#cbar)" stroke="#4a4a4a" stroke-width="0.8"/>
<rect x="368" y="543" width="7.7" height="71.8" fill="#bcbcbc" stroke="#727272" stroke-width="0.8"/><rect x="368.4" y="585.0" width="6.9" height="5.2" fill="#d6c2ba"/><line x1="368" y1="585.0" x2="375.7" y2="585.0" stroke="#7a3a30" stroke-width="0.9"/><line x1="368" y1="590.2" x2="375.7" y2="590.2" stroke="#7a3a30" stroke-width="0.9"/>
<text transform="translate(385.0,522.0) rotate(-90)" font-size="8.8" fill="#222" textLength="50.0" lengthAdjust="spacingAndGlyphs">Line fit 376nm</text>
<text transform="translate(385.5,598.5) rotate(-90)" font-size="8.8" fill="#222" textLength="46.1" lengthAdjust="spacingAndGlyphs">Z-Axis range</text>
<text x="419.7" y="458.7" font-size="9.3" fill="#222" textLength="156.3" lengthAdjust="spacingAndGlyphs" >(b)(3) Amplitude - Scan forward Line fit</text>
<g clip-path="url(#cB3)" filter="url(#gB3)"><rect x="419" y="462" width="152" height="152" fill="#db7316"/><ellipse cx="430" cy="471" rx="14" ry="8" fill="#b55f10" filter="url(#b4)" opacity="0.6"/><ellipse cx="500" cy="500" rx="40" ry="22" fill="#cf7016" filter="url(#b8)" opacity="0.5"/><ellipse cx="542" cy="571" rx="7" ry="14" fill="#a85208" filter="url(#b3)" opacity="0.65"/><ellipse cx="556" cy="566" rx="6" ry="13" fill="#f3b06a" filter="url(#b3)" opacity="0.75"/></g>
<path d="M419.5,464 V612.9 H569.2" fill="none" stroke="#555" stroke-width="0.7"/><line x1="417" y1="464" x2="419.5" y2="464" stroke="#555" stroke-width="0.7"/><line x1="417" y1="538.2" x2="419.5" y2="538.2" stroke="#555" stroke-width="0.7"/><line x1="417" y1="612.4" x2="419.5" y2="612.4" stroke="#555" stroke-width="0.7"/><line x1="420" y1="612.9" x2="420" y2="615.4" stroke="#555" stroke-width="0.7"/><line x1="494.6" y1="612.9" x2="494.6" y2="615.4" stroke="#555" stroke-width="0.7"/><line x1="569.2" y1="612.9" x2="569.2" y2="615.4" stroke="#555" stroke-width="0.7"/>
<text x="461.7" y="505.0" font-size="10" fill="#f7e6c4" textLength="73.3" lengthAdjust="spacingAndGlyphs" >Nanosilica particle</text>
<path d="M507.3,506.7 L535,550" stroke="#f6e11c" stroke-width="1.7" fill="none" marker-end="url(#ah)"/>
<ellipse cx="548.3" cy="570" rx="18.3" ry="20" fill="none" stroke="#f6e11c" stroke-width="1.3"/>
<text x="395.3" y="465.8" font-size="8" fill="#222" textLength="17.7" lengthAdjust="spacingAndGlyphs" >25<tspan font-style="italic">µ</tspan>m</text>
<text x="405.5" y="539.4" font-size="8" fill="#222" textLength="9.7" lengthAdjust="spacingAndGlyphs" >Y*</text>
<text x="400.8" y="613.5" font-size="8" fill="#222" textLength="12.4" lengthAdjust="spacingAndGlyphs" >0 m</text>
<text x="412.8" y="623.5" font-size="8" fill="#222" textLength="12.2" lengthAdjust="spacingAndGlyphs" >0 m</text>
<text x="490.0" y="623.5" font-size="8" fill="#222" textLength="8.5" lengthAdjust="spacingAndGlyphs" >X*</text>
<text x="558.8" y="623.5" font-size="8" fill="#222" textLength="18.5" lengthAdjust="spacingAndGlyphs" >25<tspan font-style="italic">µ</tspan>m</text>
<path d="M570.4,464.1 l4.8,-2.7 v5.4 z" fill="#111"/>
<rect x="578.5" y="463.7" width="7.5" height="71.3" fill="url(#cbar)" stroke="#4a4a4a" stroke-width="0.8"/>
<rect x="578.3" y="541.5" width="7.3" height="71.1" fill="#bcbcbc" stroke="#727272" stroke-width="0.8"/><rect x="578.6999999999999" y="572.6" width="6.5" height="3" fill="#d6c2ba"/><line x1="578.3" y1="572.6" x2="585.5999999999999" y2="572.6" stroke="#7a3a30" stroke-width="0.9"/><line x1="578.3" y1="575.6" x2="585.5999999999999" y2="575.6" stroke="#7a3a30" stroke-width="0.9"/>
<text transform="translate(595.2,522.0) rotate(-90)" font-size="8.8" fill="#222" textLength="51.3" lengthAdjust="spacingAndGlyphs">Line fit 332mV</text>
<text transform="translate(595.5,601.7) rotate(-90)" font-size="8.8" fill="#222" textLength="56.5" lengthAdjust="spacingAndGlyphs">Amplitude range</text>
</svg>
<div class="cap">图<span class="l">2-</span>纳米填料的粒径，通过动态光散射和<span class="l">AFM</span>图<br>像，在纳米填料的形貌中，(a)纳米纤维素和(b)纳<br>米二氧化硅；形貌图像:(1)纳米填料的三维形貌图<br>像，(2)纳米颗粒的二维相和(3)纳米颗粒的相分离</div>
</body></html>
